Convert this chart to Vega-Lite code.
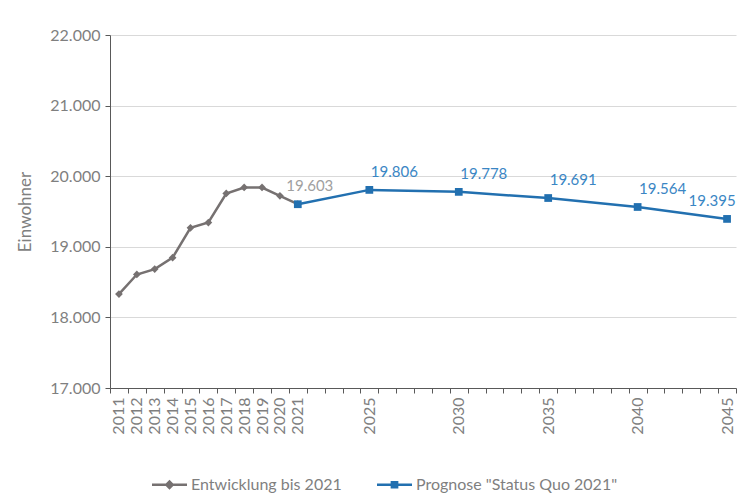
{
  "$schema": "https://vega.github.io/schema/vega-lite/v6.json",
  "autosize": {"type": "none"},
  "width": 626,
  "height": 353,
  "padding": {"left": 110, "top": 35, "right": 16, "bottom": 111},
  "background": "white",
  "config": {
    "locale": {"number": {"decimal": ",", "thousands": ".", "grouping": [3], "currency": ["", " €"]}},
    "font": "Lato",
    "view": {"stroke": null},
    "axis": {"labelFont": "Lato", "labelFontSize": 16, "labelColor": "#7f7f7f", "titleFont": "Lato", "titleFontSize": 17, "titleColor": "#7f7f7f", "titleFontWeight": "normal", "domainColor": "#595959", "tickColor": "#595959", "tickSize": 5}
  },
  "data": {
    "values": [
      {"year": 2011, "value": 18330, "series": "Entwicklung bis 2021"},
      {"year": 2012, "value": 18608, "series": "Entwicklung bis 2021"},
      {"year": 2013, "value": 18684, "series": "Entwicklung bis 2021"},
      {"year": 2014, "value": 18846, "series": "Entwicklung bis 2021"},
      {"year": 2015, "value": 19269, "series": "Entwicklung bis 2021"},
      {"year": 2016, "value": 19344, "series": "Entwicklung bis 2021"},
      {"year": 2017, "value": 19755, "series": "Entwicklung bis 2021"},
      {"year": 2018, "value": 19840, "series": "Entwicklung bis 2021"},
      {"year": 2019, "value": 19840, "series": "Entwicklung bis 2021"},
      {"year": 2020, "value": 19722, "series": "Entwicklung bis 2021"},
      {"year": 2021, "value": 19603, "series": "Entwicklung bis 2021"},
      {"year": 2021, "value": 19603, "series": "Prognose \"Status Quo 2021\""},
      {"year": 2025, "value": 19806, "series": "Prognose \"Status Quo 2021\""},
      {"year": 2030, "value": 19778, "series": "Prognose \"Status Quo 2021\""},
      {"year": 2035, "value": 19691, "series": "Prognose \"Status Quo 2021\""},
      {"year": 2040, "value": 19564, "series": "Prognose \"Status Quo 2021\""},
      {"year": 2045, "value": 19395, "series": "Prognose \"Status Quo 2021\""}
    ]
  },
  "encoding": {
    "x": {
      "field": "year", "type": "ordinal",
      "scale": {"domain": [2011,2012,2013,2014,2015,2016,2017,2018,2019,2020,2021,2022,2023,2024,2025,2026,2027,2028,2029,2030,2031,2032,2033,2034,2035,2036,2037,2038,2039,2040,2041,2042,2043,2044,2045], "paddingInner": 0, "paddingOuter": 0},
      "axis": {"title": null, "labelAngle": 270, "tickBand": "extent", "labelPadding": 4, "labelExpr": "(datum.value <= 2021 || datum.value % 5 == 0) ? datum.label : ''"}
    },
    "y": {
      "field": "value", "type": "quantitative",
      "scale": {"domain": [17000, 22000], "nice": false, "zero": false},
      "axis": {"title": "Einwohner", "values": [17000,18000,19000,20000,21000,22000], "format": ",.0f", "grid": true, "gridColor": "#d9d9d9", "labelPadding": 5, "titlePadding": 15}
    }
  },
  "layer": [
    {
      "mark": {"type": "line", "strokeWidth": 2.5},
      "encoding": {
        "color": {
          "field": "series", "type": "nominal",
          "scale": {"domain": ["Entwicklung bis 2021", "Prognose \"Status Quo 2021\""], "range": ["#767171", "#2270b0"]},
          "legend": {
            "orient": "none", "legendX": 42, "legendY": 432, "direction": "horizontal", "title": null,
            "symbolSize": 1225, "symbolStrokeWidth": 0, "labelFont": "Lato", "labelFontSize": 16, "labelColor": "#7f7f7f", "labelLimit": 400,
            "columnPadding": 35, "labelOffset": 4,
            "encode": {"symbols": {"update": {
              "shape": {"signal": "datum.value === 'Entwicklung bis 2021' ? 'M-1,-0.07H1V0.07H-1Z M0,-0.28L0.28,0L0,0.28L-0.28,0Z' : 'M-1,-0.07H1V0.07H-1Z M-0.22,-0.22H0.22V0.22H-0.22Z'"},
              "fill": {"signal": "scale('color', datum.value)"},
              "opacity": {"value": 1}
            }}}
          }
        }
      }
    },
    {
      "transform": [{"filter": "datum.series == 'Entwicklung bis 2021'"}],
      "mark": {"type": "point", "filled": true, "opacity": 1, "size": 60, "shape": "diamond", "color": "#767171"}
    },
    {
      "transform": [{"filter": "datum.series != 'Entwicklung bis 2021'"}],
      "mark": {"type": "point", "filled": true, "opacity": 1, "size": 60, "shape": "square", "color": "#2270b0"}
    },
    {
      "transform": [{"filter": "datum.year == 2021 && datum.series == 'Entwicklung bis 2021'"}],
      "mark": {"type": "text", "fontSize": 15, "dx": 12, "dy": -18, "color": "#a0a0a0"},
      "encoding": {"text": {"field": "value", "type": "quantitative", "format": ","}}
    },
    {
      "transform": [{"filter": "datum.year > 2021 && datum.year < 2045"}],
      "mark": {"type": "text", "fontSize": 15, "dx": 25, "dy": -18, "color": "#3a86c4"},
      "encoding": {"text": {"field": "value", "type": "quantitative", "format": ","}}
    },
    {
      "transform": [{"filter": "datum.year == 2045"}],
      "mark": {"type": "text", "fontSize": 15, "dx": -15, "dy": -18, "color": "#3a86c4"},
      "encoding": {"text": {"field": "value", "type": "quantitative", "format": ","}}
    }
  ]
}
